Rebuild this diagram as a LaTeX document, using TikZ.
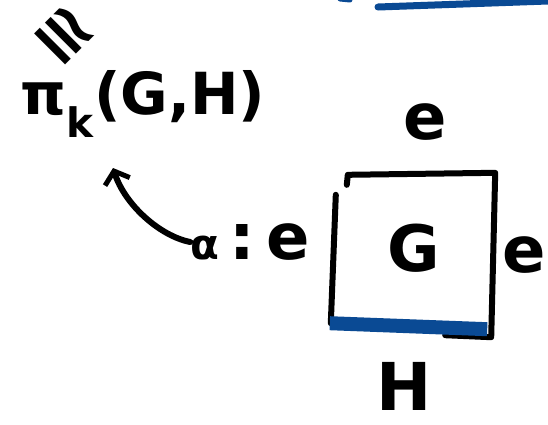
\documentclass[tikz,border=0pt]{standalone}
\usepackage{fontspec}
\setmainfont{DejaVu Sans}
\usetikzlibrary{arrows.meta,positioning}
\definecolor{penblue}{HTML}{0A4A94}

\begin{document}
\begin{tikzpicture}[x=1pt,y=-1pt,>={Straight Barb[length=11pt,width=26pt,line width=5pt]},
  hand/.style={line width=6pt,line cap=round,line join=round},
  lbl/.style={inner sep=0pt,font=\fontsize{64}{70}\selectfont\bfseries}]
\useasboundingbox (0,0) rectangle (548,424);
\node[lbl,font=\fontsize{70}{72}\selectfont\bfseries] (iso) at (64,36) [rotate=-45] {≅};
\node[lbl,font=\fontsize{58}{64}\selectfont\bfseries] (pi) at (143,104) {π\textsubscript{k}(G,H)};
\node[lbl,minimum width=162pt,minimum height=150pt] (sq) at (414,248) {G};
\node[lbl] (et) at (425,122) {e};
\node[lbl] (er) at (524,255) {e};
\node[lbl,font=\fontsize{66}{70}\selectfont\bfseries] (hh) at (404,386) {H};
\node[lbl] (al) at (250,242) {{\fontsize{42}{48}\selectfont α}\,:\,e};
\coordinate (tip) at (113,168);
% square sides
\draw[hand] ([shift={(14,12)}]sq.north west) -- ([shift={(15,2)}]sq.north west) -- (sq.north east) -- ([shift={(-4,14)}]sq.south east) -- ([shift={(-50,12)}]sq.south east);
\draw[hand] ([shift={(3,22)}]sq.north west) -- ([shift={(-2,0)}]sq.south west);
\draw[penblue,line width=14pt] ([shift={(-3,0)}]sq.south west) -- ([shift={(-8,6)}]sq.south east);
% arrow
\draw[hand,->] (al.west) .. controls (160,236) and (125,205) .. (tip);
% stroke at top
\draw[penblue,line width=7pt,line cap=round] (378,7) -- (548,1);
\draw[penblue,line width=5pt,line cap=round] (340,-1) -- (350,0);
\end{tikzpicture}
\end{document}
